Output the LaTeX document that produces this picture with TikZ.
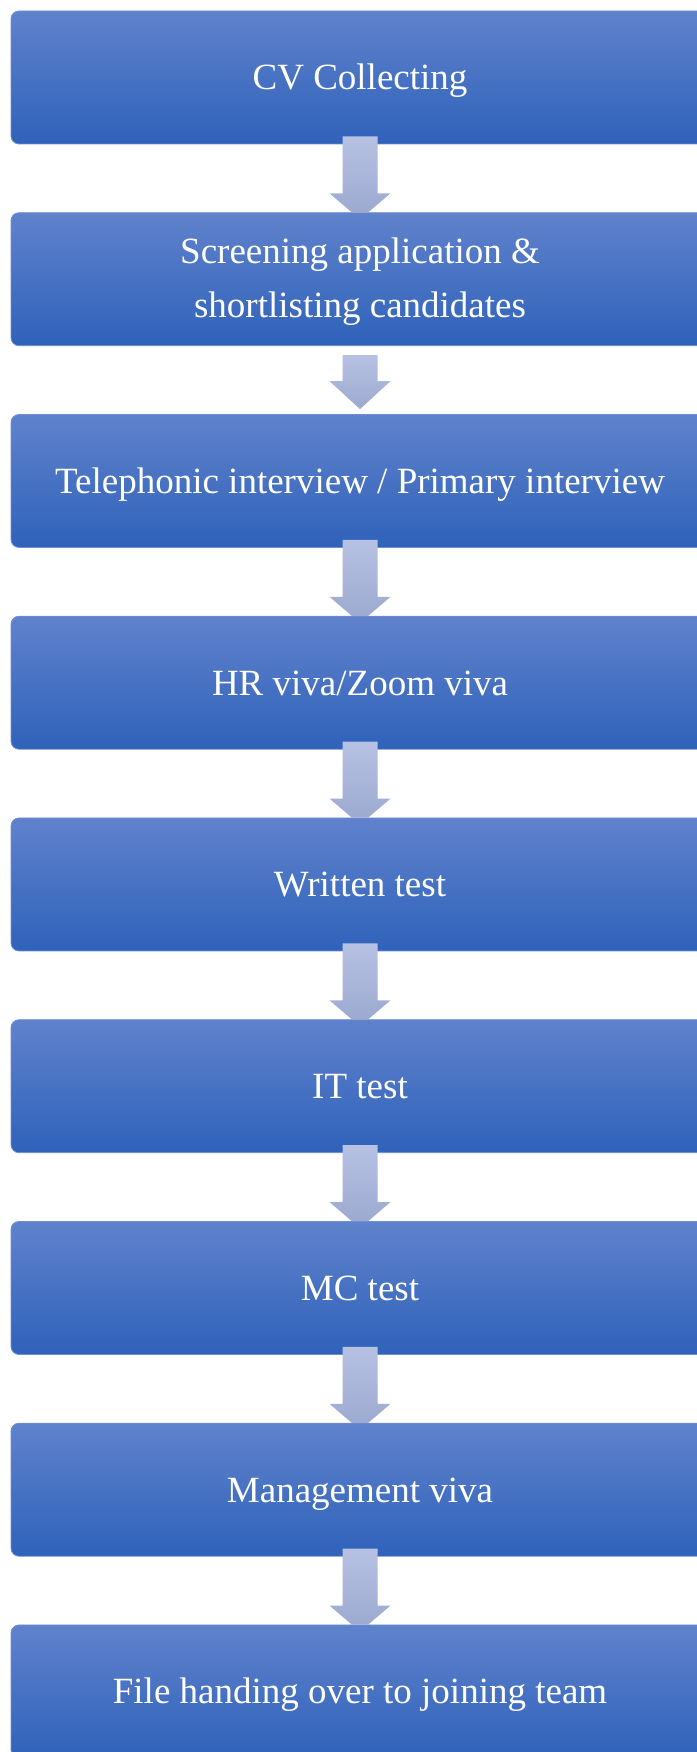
\documentclass[tikz,border=0pt]{standalone}
\usepackage{fontspec}
\setmainfont{Liberation Serif}
\usetikzlibrary{calc}

\definecolor{boxtop}{RGB}{96,130,204}
\definecolor{boxmid}{RGB}{67,114,203}
\definecolor{boxbottom}{RGB}{47,98,186}
\definecolor{boxedge}{RGB}{112,141,210}
\definecolor{arrtop}{RGB}{182,193,227}
\definecolor{arrbottom}{RGB}{157,170,208}

\tikzset{
  stage/.style={rectangle, rounded corners=8pt, minimum width=698pt,
    minimum height=133pt, inner sep=0pt, top color=boxtop,
    middle color=boxmid, bottom color=boxbottom, draw=boxedge,
    line width=0.8pt, text=white, align=center,
    text height=33pt, text depth=8pt,
    font=\fontsize{37}{54}\selectfont},
  twoline/.style={text height=, text depth=},
  flowarrow/.style={top color=arrtop, bottom color=arrbottom, draw=none}
}

\begin{document}
\begin{tikzpicture}[x=1pt,y=1pt]
\useasboundingbox (0,0) rectangle (696,1752);

% recruitment stages, top to bottom
\node[stage] (s1) at (360,1674.5) {CV Collecting};
\node[stage, twoline] (s2) at (360,1472.75)
  {\begin{tabular}{@{}c@{}}Screening application \&\\shortlisting candidates\end{tabular}};
\node[stage] (s3) at (360,1271) {Telephonic interview / Primary interview};
\node[stage] (s4) at (360,1069.25) {HR viva/Zoom viva};
\node[stage] (s5) at (360,867.5) {Written test};
\node[stage] (s6) at (360,665.75) {IT test};
\node[stage] (s7) at (360,464) {MC test};
\node[stage] (s8) at (360,262.25) {Management viva};
\node[stage] (s9) at (360,60.5) {File handing over to joining team};

% block arrows overlapping the upper box, head tucked under the lower box
\foreach \a/\b in {s1/s2,s3/s4,s4/s5,s5/s6,s6/s7,s7/s8,s8/s9}{
  \shade[flowarrow]
    ($(\a.south)+(-17.5,8)$) -- ($(\b.north)+(-17.5,19)$)
    -- ($(\b.north)+(-30.5,19)$) -- ($(\b.north)+(-8.2,0)$)
    -- ($(\b.north)+(8.2,0)$) -- ($(\b.north)+(30.5,19)$)
    -- ($(\b.north)+(17.5,19)$) -- ($(\a.south)+(17.5,8)$) -- cycle;
}

% shorter block arrow sitting in the gap between s2 and s3
\shade[flowarrow]
  ($(s2.south)+(-17.5,-9)$) -- ($(s2.south)+(-17.5,-35)$)
  -- ($(s2.south)+(-30.5,-35)$) -- ($(s3.north)+(0,5)$)
  -- ($(s2.south)+(30.5,-35)$) -- ($(s2.south)+(17.5,-35)$)
  -- ($(s2.south)+(17.5,-9)$) -- cycle;
\end{tikzpicture}
\end{document}
